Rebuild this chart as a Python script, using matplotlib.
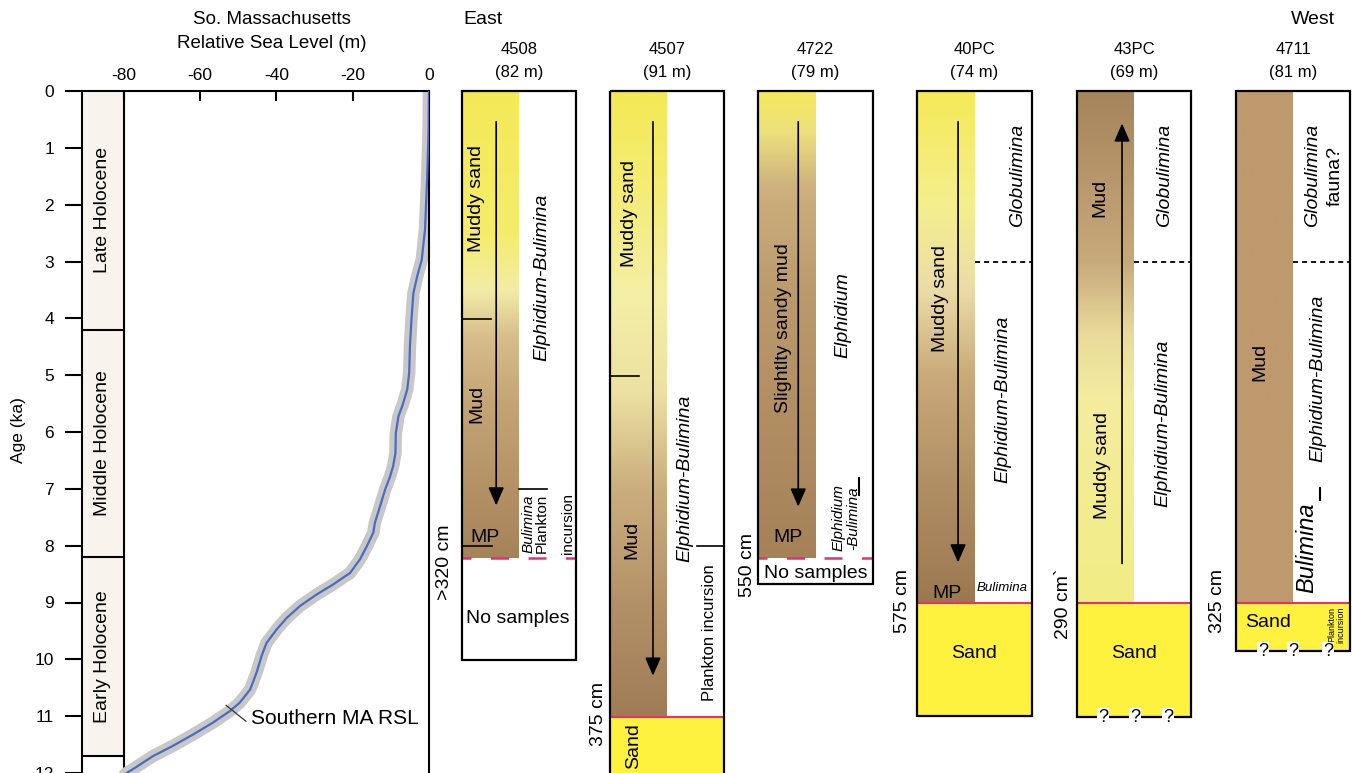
import numpy as np
import matplotlib
matplotlib.use('Agg')
import matplotlib.pyplot as plt
from matplotlib.colors import LinearSegmentedColormap
from matplotlib.patches import Rectangle

plt.rcParams['font.family'] = ['Liberation Sans', 'DejaVu Sans']

W, H = 1352, 773
AX_TOP, AX_BOT = 91, 773
AGE_MAX = 11.98

# ---------------- Relative sea-level curve ----------------
rsl_age = [0.0, 0.69, 1.56, 2.44, 2.97, 3.26, 3.56, 4.02, 4.49, 4.96, 5.25, 5.52, 5.72,
           6.02, 6.37, 6.6, 6.78, 7.01, 7.31, 7.6, 7.77, 8.01, 8.24, 8.48, 8.68, 8.86,
           9.06, 9.27, 9.47, 9.71, 9.94, 10.23, 10.53, 10.76, 10.91, 11.11, 11.32, 11.52,
           11.70, 11.93, 12.05]
rsl_m = [0.0, -0.1, -0.5, -1.05, -1.9, -3.1, -4.1, -4.6, -5.0, -5.2, -5.7, -6.9, -8.0,
         -8.7, -8.8, -9.4, -10.2, -11.5, -12.85, -14.2, -14.6, -16.3, -18.1, -20.7, -25.1, -29.5,
         -33.8, -37.3, -39.9, -42.6, -43.9, -45.2, -46.9, -49.6, -52.2, -56.6, -61.8, -67.1,
         -72.3, -77.6, -80.5]
rsl_xticks = [-80, -60, -40, -20, 0]
rsl_xticklabels = ['-80', '-60', '-40', '-20', '0']
age_ticks = list(range(0, 13))

epoch_names = ['Late Holocene', 'Middle Holocene', 'Early Holocene']
epoch_bounds = [0.0, 4.2, 8.2, 11.7]

# ---------------- Cores ----------------
core_ids = ['4508', '4507', '4722', '40PC', '43PC', '4711']
core_depths = ['(82 m)', '(91 m)', '(79 m)', '(74 m)', '(69 m)', '(81 m)']
core_lengths = ['>320 cm', '375 cm', '550 cm', '575 cm', '290 cm`', '325 cm']
contact_age = [8.2, 11.0, 8.2, 9.0, 9.0, 9.0]
core_bottom_age = [10.0, 12.5, 8.66, 10.97, 11.0, 9.84]
contact_dashed = [True, False, True, False, False, False]
sand_below = [False, True, False, True, True, True]
fauna_break_age = [None, None, None, 3.0, 3.0, 3.0]

# sediment colour stops (age, colour) down each core
core_colors = [
    [(0, '#f3e957'), (2.5, '#f5ec6c'), (3.5, '#f2eca8'), (4.3, '#d8be8c'), (5.5, '#c4a475'), (8.2, '#a68259')],
    [(0, '#f3e955'), (1.5, '#f4ec70'), (3.6, '#f4efa6'), (5.3, '#ece1a2'), (7.0, '#cbae7e'), (9.0, '#b39168'), (11.0, '#a07c56')],
    [(0, '#f4ea5a'), (0.7, '#ede07e'), (1.7, '#cdb07e'), (3.5, '#bb9a6c'), (8.2, '#a58158')],
    [(0, '#f4ea58'), (2.0, '#f5ef8e'), (3.5, '#eadca8'), (5.0, '#c9aa7b'), (7.0, '#b08e64'), (9.0, '#9c7850')],
    [(0, '#a6845c'), (1.5, '#b7966b'), (3.0, '#c7aa7c'), (4.3, '#e9db9c'), (5.5, '#f4ed9e'), (9.0, '#f2ec84')],
    [(0, '#be996d'), (9.0, '#be996d')],
]
# trend arrows: (start age, end age, x position in core)
core_arrows = [(0.54, 7.28, 0.30), (0.54, 10.27, 0.377), (0.54, 7.30, 0.35),
               (0.54, 8.28, 0.357), (8.30, 0.57, 0.395), None]
# short boundary lines: (age, x0, x1)
core_hlines = [[(4.0, 0.0, 0.25), (8.0, 0.0, 0.26), (7.0, 0.5, 0.745)],
               [(5.0, 0.0, 0.254), (8.0, 0.76, 1.0)],
               [], [], [], []]
core_vticks = [[], [], [(0.88, 6.8, 7.1)], [], [], [(0.74, 6.98, 7.19)]]
# labels: (text, x, age, size, rotation, italic)
core_labels = [
    [('Muddy sand', 0.13, 1.88, 14, 90, False), ('Mud', 0.13, 5.49, 14, 90, False),
     ('MP', 0.2, 7.84, 14, 0, False), ('Elphidium-Bulimina', 0.70, 3.27, 14, 90, True),
     ('Bulimina', 0.58, 7.6, 11, 90, True), ('Plankton', 0.70, 7.6, 11, 90, False),
     ('incursion', 0.93, 7.6, 11, 90, False), ('No samples', 0.49, 9.27, 14, 0, False)],
    [('Muddy sand', 0.175, 2.15, 14, 90, False), ('Mud', 0.19, 7.89, 14, 90, False),
     ('Elphidium-Bulimina', 0.66, 6.8, 14, 90, True), ('Plankton incursion', 0.87, 9.51, 12, 90, False),
     ('Sand', 0.21, 11.5, 14, 90, False)],
    [('Slightlty sandy mud', 0.22, 4.17, 14, 90, False), ('MP', 0.26, 7.84, 14, 0, False),
     ('Elphidium', 0.74, 3.94, 14, 90, True), ('Elphidium\n-Bulimina', 0.765, 7.5, 11, 90, True),
     ('No samples', 0.5, 8.47, 14, 0, False)],
    [('Muddy sand', 0.2, 3.64, 14, 90, False), ('MP', 0.26, 8.82, 14, 0, False),
     ('Globulimina', 0.87, 1.48, 14, 90, True), ('Elphidium-Bulimina', 0.75, 5.41, 14, 90, True),
     ('Bulimina', 0.74, 8.73, 9.5, 0, True), ('Sand', 0.5, 9.88, 14, 0, False)],
    [('Mud', 0.2, 1.88, 14, 90, False), ('Muddy sand', 0.22, 6.57, 14, 90, False),
     ('Globulimina', 0.77, 1.48, 14, 90, True), ('Elphidium-Bulimina', 0.75, 5.84, 14, 90, True),
     ('Sand', 0.5, 9.88, 14, 0, False)],
    [('Mud', 0.21, 4.76, 14, 90, False), ('Globulimina', 0.675, 1.48, 14, 90, True),
     ('fauna?', 0.87, 1.5, 14, 90, False), ('Elphidium-Bulimina', 0.72, 5.05, 14, 90, True),
     ('Bulimina', 0.62, 8.03, 17, 90, True), ('Sand', 0.28, 9.33, 14, 0, False),
     ('Plankton\nincursion', 0.88, 9.37, 6.5, 90, False)],
]
core_length_pos = [(-0.15, 8.27), (-0.10, 10.95), (-0.087, 8.33), (-0.13, 8.95), (-0.12, 9.0), (-0.16, 8.95)]
core_qmarks = [[], [], [], [], [0.23, 0.51, 0.80], [0.24, 0.5, 0.81]]

# layout (pixels)
core_left_px = [462, 610, 758, 917, 1077, 1236]
core_right_px = [576, 724, 873, 1032, 1191, 1350]
BAND = 0.5
SAND = '#fff23e'
MAGENTA = '#e0307f'

fig = plt.figure(figsize=(W / 100, H / 100), dpi=100)


def add_px_axes(left, right, top=AX_TOP, bottom=AX_BOT):
    return fig.add_axes([left / W, (H - bottom) / H, (right - left) / W, (bottom - top) / H])


# ---------------- RSL panel ----------------
ax = add_px_axes(82, 429)
ax.set_xlim(-91, 0)
ax.set_ylim(AGE_MAX, 0)
ax.add_patch(Rectangle((-91, epoch_bounds[0]), 11, epoch_bounds[-1] - epoch_bounds[0],
                       fc='#f8f3ec', ec='none', zorder=0))
ax.axvline(-80, color='black', lw=1.5, zorder=1)
for b in epoch_bounds[1:]:
    ax.plot([-91, -80], [b, b], color='black', lw=1.5, zorder=1)
for name, a0, a1 in zip(epoch_names, epoch_bounds[:-1], epoch_bounds[1:]):
    ax.text(-85.5, (a0 + a1) / 2, name, rotation=90, ha='center', va='center', fontsize=14)

ax.plot(rsl_m, rsl_age, color='#c8c8c8', lw=9, solid_capstyle='round',
        solid_joinstyle='round', zorder=2)
ax.plot(rsl_m, rsl_age, color='#4a6cc0', lw=1.6, solid_joinstyle='round', zorder=3)
ax.plot([-53.2, -48.0], [10.81, 11.09], color='#333333', lw=0.9, zorder=4)
ax.text(-46.6, 11.04, 'Southern MA RSL', ha='left', va='center', fontsize=15)

ax.xaxis.tick_top()
ax.set_xticks(rsl_xticks)
ax.set_xticklabels(rsl_xticklabels)
ax.set_yticks(age_ticks)
ax.set_yticklabels([str(a) for a in age_ticks])
ax.tick_params(axis='x', direction='in', length=7.5, width=1.5, pad=5.5, labelsize=12.5)
ax.tick_params(axis='y', direction='out', length=12, width=1.5, pad=8, labelsize=12.5)
for s in ['top', 'left', 'right']:
    ax.spines[s].set_linewidth(1.5)
ax.spines['bottom'].set_visible(False)

fig.text(18 / W, 1 - 430 / H, 'Age (ka)', rotation=90, ha='center', va='center', fontsize=12.5)
fig.text(272 / W, 1 - 20 / H, 'So. Massachusetts', ha='center', va='center', fontsize=13.5)
fig.text(272 / W, 1 - 43 / H, 'Relative Sea Level (m)', ha='center', va='center', fontsize=13.5)
fig.text(463 / W, 1 - 20 / H, 'East', ha='left', va='center', fontsize=14)
fig.text(1335 / W, 1 - 20 / H, 'West', ha='right', va='center', fontsize=14)

# ---------------- Core panels ----------------
for i, cid in enumerate(core_ids):
    cax = add_px_axes(core_left_px[i], core_right_px[i])
    cax.set_axis_off()
    top, contact, bot = 0.0, contact_age[i], core_bottom_age[i]

    stops = core_colors[i]
    span = stops[-1][0] - stops[0][0]
    cmap = LinearSegmentedColormap.from_list('c%d' % i, [((a - stops[0][0]) / span, c) for a, c in stops])
    grad = np.linspace(0, 1, 256).reshape(-1, 1)
    cax.imshow(grad, cmap=cmap, extent=[0, BAND, contact, top], origin='upper',
               aspect='auto', interpolation='bilinear', zorder=1)

    if sand_below[i]:
        cax.add_patch(Rectangle((0, contact), 1, bot - contact, fc=SAND, ec='none', zorder=1, clip_on=False))

    if contact_dashed[i]:
        cax.plot([0, 1], [contact, contact], color=MAGENTA, lw=1.8, ls=(3.6, (7.2, 7.8)), zorder=3)
    else:
        cax.plot([0, 1], [contact, contact], color=MAGENTA, lw=1.5, zorder=3)

    if fauna_break_age[i] is not None:
        fa = fauna_break_age[i]
        cax.plot([BAND, 1], [fa, fa], color='black', lw=1.3, ls=(0, (2.8, 2.2)), zorder=3)

    for (a, x0, x1) in core_hlines[i]:
        cax.plot([x0, x1], [a, a], color='black', lw=1.2, zorder=3)
    for (x, a0, a1) in core_vticks[i]:
        cax.plot([x, x], [a0, a1], color='black', lw=1.5, zorder=3)

    if core_arrows[i] is not None:
        a0, a1, x = core_arrows[i]
        cax.annotate('', xy=(x, a1), xytext=(x, a0),
                     arrowprops=dict(arrowstyle='-|>,head_length=0.55,head_width=0.24',
                                     color='black', lw=1.2, mutation_scale=20,
                                     shrinkA=0, shrinkB=0), zorder=4)

    cax.add_patch(Rectangle((0, top), 1, bot - top, fill=False, ec='black', lw=1.6,
                            zorder=5, clip_on=False))

    for (txt, x, a, size, rot, it) in core_labels[i]:
        cax.text(x, a, txt, rotation=rot, ha='center', va='center', fontsize=size,
                 style='italic' if it else 'normal', zorder=6, linespacing=1.0)

    lx, la = core_length_pos[i]
    cax.text(lx, la, core_lengths[i], rotation=90, ha='center', va='center', fontsize=14,
             clip_on=False)

    for qx in core_qmarks[i]:
        cax.text(qx, bot, '?', ha='center', va='center', fontsize=13, zorder=7,
                 bbox=dict(fc='white', ec='none', pad=0.6))

    cax.set_xlim(0, 1)
    cax.set_ylim(AGE_MAX, 0)

    cx = (core_left_px[i] + core_right_px[i]) / 2
    fig.text(cx / W, 1 - 50 / H, cid, ha='center', va='center', fontsize=12)
    fig.text(cx / W, 1 - 72 / H, core_depths[i], ha='center', va='center', fontsize=12)

fig.savefig('out.png', dpi=100)
